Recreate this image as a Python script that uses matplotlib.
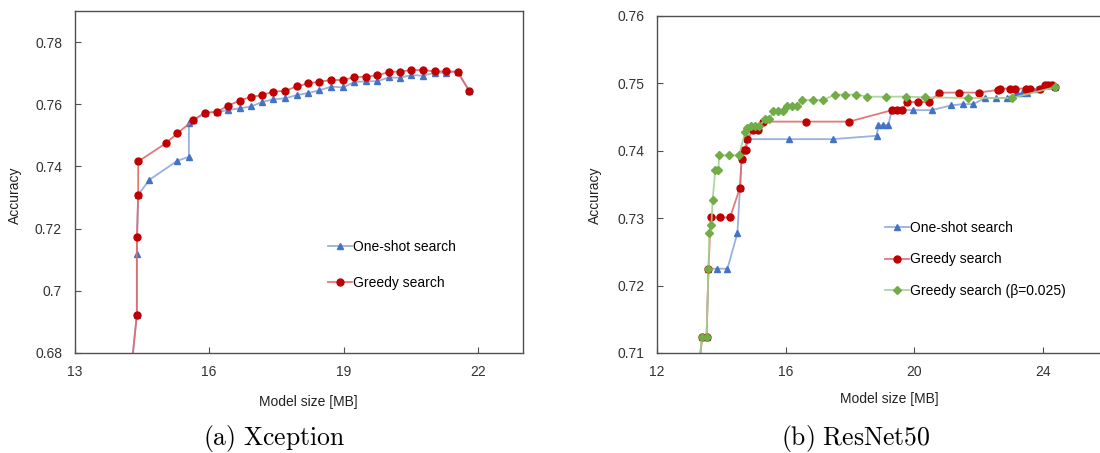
import matplotlib
matplotlib.use("Agg")
import matplotlib.pyplot as plt

plt.rcParams['font.family'] = ['Liberation Sans', 'DejaVu Sans']
plt.rcParams['mathtext.fontset'] = 'cm'

# (a) Xception
xc_one_x = [14.16, 14.39, 14.39, 14.42, 14.67, 15.29, 15.55, 15.55, 15.65, 15.91, 16.17, 16.42, 16.68,
            16.94, 17.18, 17.43, 17.70, 17.96, 18.21, 18.46, 18.73, 18.99, 19.23, 19.50, 19.75,
            20.02, 20.25, 20.51, 20.77, 21.03, 21.29, 21.54, 21.80]
xc_one_y = [0.66, 0.6922, 0.7119, 0.7309, 0.7357, 0.7418, 0.7431, 0.7539, 0.7549, 0.7573, 0.7575, 0.7581,
            0.7587, 0.7593, 0.7607, 0.7616, 0.7619, 0.7630, 0.7636, 0.7645, 0.7657, 0.7654, 0.7671,
            0.7674, 0.7674, 0.7687, 0.7685, 0.7694, 0.7692, 0.7701, 0.7702, 0.7705, 0.7643]
xc_greedy_x = [14.16, 14.39, 14.39, 14.42, 14.42, 15.03, 15.29, 15.65, 15.91, 16.17, 16.42, 16.68, 16.94,
               17.18, 17.43, 17.70, 17.96, 18.21, 18.46, 18.73, 18.99, 19.23, 19.50, 19.75, 20.02,
               20.25, 20.51, 20.77, 21.03, 21.29, 21.54, 21.80]
xc_greedy_y = [0.66, 0.6922, 0.7172, 0.7309, 0.7416, 0.7474, 0.7506, 0.7549, 0.7573, 0.7575, 0.7595,
               0.7612, 0.7624, 0.7629, 0.7641, 0.7643, 0.7658, 0.7667, 0.7673, 0.7678, 0.7678, 0.7687,
               0.7689, 0.7693, 0.7704, 0.7705, 0.7710, 0.7710, 0.7706, 0.7706, 0.7705, 0.7643]

# (b) ResNet50
rn_one_x = [13.25, 13.40, 13.54, 13.60, 13.87, 14.19, 14.50, 14.58, 14.63, 14.81, 16.11, 17.46, 18.83,
            18.88, 19.04, 19.19, 19.30, 19.95, 20.54, 21.14, 21.50, 21.83, 22.20, 22.53, 22.87, 23.18,
            23.34, 23.49, 23.80, 24.37]
rn_one_y = [0.705, 0.7123, 0.7123, 0.7225, 0.7225, 0.7225, 0.7278, 0.7345, 0.7387, 0.7417, 0.7417,
            0.7417, 0.7422, 0.7438, 0.7438, 0.7438, 0.7460, 0.7460, 0.7460, 0.7467, 0.7469, 0.7469,
            0.7478, 0.7478, 0.7478, 0.7485, 0.7485, 0.7485, 0.7491, 0.7494]
rn_greedy_x = [13.25, 13.40, 13.54, 13.60, 13.67, 13.96, 14.27, 14.58, 14.63, 14.71, 14.77, 14.81, 14.99,
               15.15, 15.28, 16.63, 17.97, 19.31, 19.47, 19.62, 19.76, 20.10, 20.45, 20.78, 21.40,
               22.00, 22.59, 22.66, 22.97, 23.13, 23.46, 23.60, 23.91, 24.06, 24.16, 24.27, 24.37]
rn_greedy_y = [0.705, 0.7123, 0.7123, 0.7225, 0.7301, 0.7301, 0.7301, 0.7345, 0.7387, 0.7401, 0.7401,
               0.7417, 0.7431, 0.7431, 0.7443, 0.7443, 0.7443, 0.7460, 0.7460, 0.7460, 0.7472, 0.7472,
               0.7472, 0.7486, 0.7486, 0.7486, 0.7490, 0.7492, 0.7492, 0.7492, 0.7492, 0.7492, 0.7491,
               0.7497, 0.7497, 0.7497, 0.7494]
rn_beta_x = [13.25, 13.39, 13.54, 13.60, 13.63, 13.69, 13.73, 13.81, 13.90, 13.94, 14.24, 14.55, 14.74,
             14.79, 14.92, 15.05, 15.18, 15.36, 15.49, 15.62, 15.77, 15.93, 16.05, 16.21, 16.36, 16.52,
             16.84, 17.17, 17.52, 17.85, 18.20, 18.54, 19.13, 19.74, 20.33, 21.68, 23.03, 24.37]
rn_beta_y = [0.705, 0.7123, 0.7123, 0.7225, 0.7278, 0.7290, 0.7327, 0.7371, 0.7371, 0.7393, 0.7393,
             0.7393, 0.7428, 0.7433, 0.7436, 0.7436, 0.7436, 0.7447, 0.7447, 0.7459, 0.7459, 0.7459,
             0.7466, 0.7466, 0.7466, 0.7475, 0.7475, 0.7475, 0.7483, 0.7483, 0.7483, 0.7480, 0.7480,
             0.7480, 0.7479, 0.7478, 0.7478, 0.7494]

BLUE, BLUE_L = '#4472C4', (0.56, 0.66, 0.86, 0.9)
RED, RED_L = '#C00000', (0.87, 0.42, 0.42, 0.9)
GREEN, GREEN_L = '#70AD47', (0.66, 0.82, 0.56, 0.9)

W, H = 1100, 453
fig = plt.figure(figsize=(W / 100, H / 100), dpi=100)


def make_axes(left, right, top, bottom):
    return fig.add_axes([left / W, 1 - bottom / H, (right - left) / W, (bottom - top) / H])


def style(ax):
    for s in ax.spines.values():
        s.set_color('#505050')
        s.set_linewidth(1.0)
    ax.tick_params(direction='in', length=4, width=0.8, color='#505050',
                   labelsize=10, labelcolor='#333333', pad=9)


ax1 = make_axes(74.5, 523, 11, 353)
ax1.plot(xc_one_x, xc_one_y, color=BLUE_L, lw=1.3, marker='^', ms=4.5,
         mfc=BLUE, mec=BLUE, label='One-shot search')
ax1.plot(xc_greedy_x, xc_greedy_y, color=RED_L, lw=1.3, marker='o', ms=5,
         mfc=RED, mec=RED, label='Greedy search')
ax1.set_xlim(13, 23)
ax1.set_ylim(0.68, 0.79)
ax1.set_xticks([13, 16, 19, 22])
ax1.set_yticks([0.68, 0.70, 0.72, 0.74, 0.76, 0.78])
ax1.set_yticklabels(['0.68', '0.7', '0.72', '0.74', '0.76', '0.78'])
style(ax1)
ax1.set_xlabel('Model size [MB]', fontsize=10, color='#222222')
ax1.set_ylabel('Accuracy', fontsize=10, color='#222222')
ax1.xaxis.set_label_coords(0.522, -0.123)
ax1.yaxis.set_label_coords(-0.117, 0.46)
ax1.legend(loc='upper left', bbox_to_anchor=(0.565, 0.33), frameon=False, fontsize=10,
           handlelength=1.7, handletextpad=0.1, labelspacing=1.55, borderpad=0, borderaxespad=0)

ax2 = make_axes(657, 1107.4, 15.7, 353)
ax2.plot(rn_one_x, rn_one_y, color=BLUE_L, lw=1.3, marker='^', ms=4.5,
         mfc=BLUE, mec=BLUE, label='One-shot search')
ax2.plot(rn_greedy_x, rn_greedy_y, color=RED_L, lw=1.3, marker='o', ms=5,
         mfc=RED, mec=RED, label='Greedy search')
ax2.plot(rn_beta_x, rn_beta_y, color=GREEN_L, lw=1.3, marker='D', ms=3.8,
         mfc=GREEN, mec=GREEN, label='Greedy search (β=0.025)')
ax2.set_xlim(12, 26)
ax2.set_ylim(0.71, 0.76)
ax2.set_xticks([12, 16, 20, 24])
ax2.set_yticks([0.71, 0.72, 0.73, 0.74, 0.75, 0.76])
style(ax2)
ax2.set_xlabel('Model size [MB]', fontsize=10, color='#222222')
ax2.set_ylabel('Accuracy', fontsize=10, color='#222222')
ax2.xaxis.set_label_coords(0.516, -0.116)
ax2.yaxis.set_label_coords(-0.123, 0.468)
ax2.legend(loc='upper left', bbox_to_anchor=(0.506, 0.391), frameon=False, fontsize=10,
           handlelength=1.7, handletextpad=0.1, labelspacing=1.25, borderpad=0, borderaxespad=0)

fig.text(274 / W, 1 - 445 / H, r'$\mathrm{(a)\ Xception}$', fontsize=18.5, ha='center', va='baseline')
fig.text(856 / W, 1 - 445 / H, r'$\mathrm{(b)\ ResNet50}$', fontsize=18.5, ha='center', va='baseline')

fig.savefig('out.png', dpi=100)
